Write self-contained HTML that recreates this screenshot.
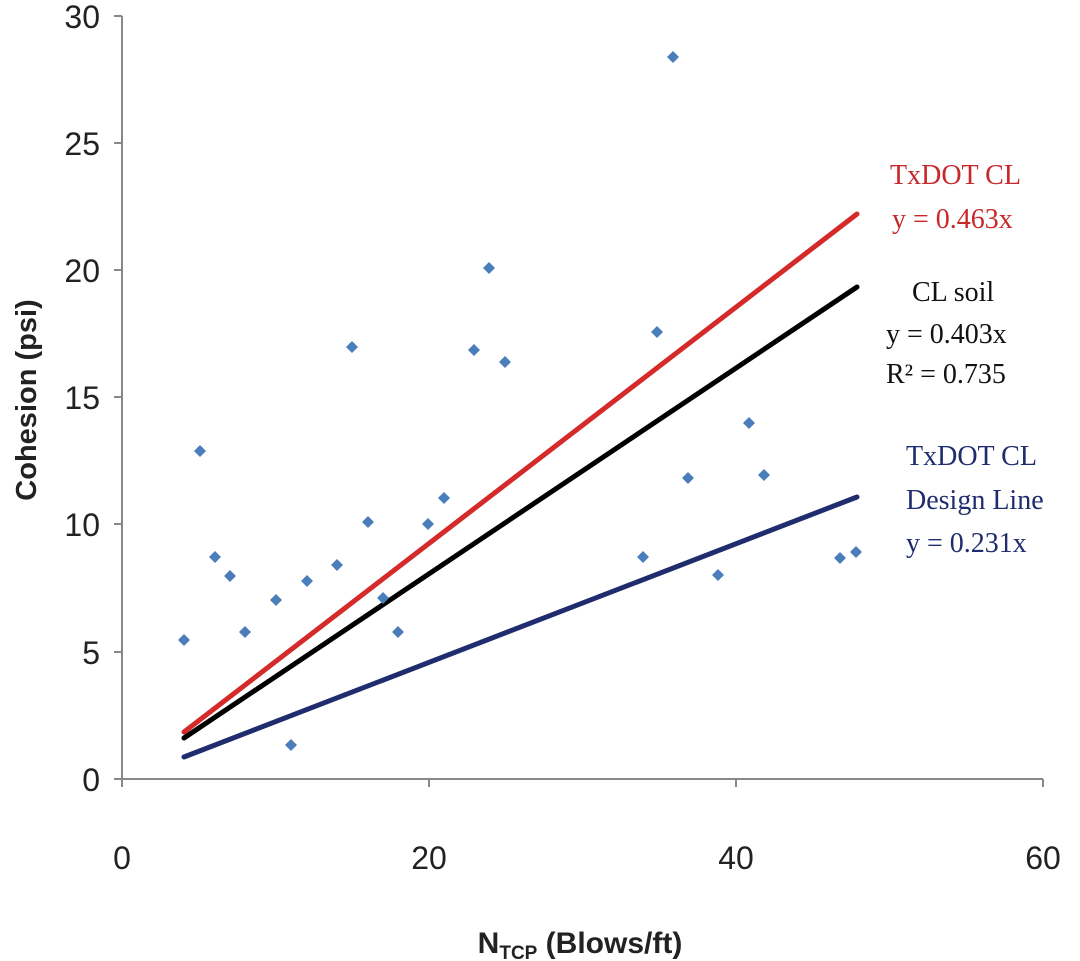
<!DOCTYPE html>
<html><head><meta charset="utf-8"><style>body{margin:0;background:#fff}svg{display:block}</style></head><body>
<svg width="1080" height="961" viewBox="0 0 1080 961" xmlns="http://www.w3.org/2000/svg">
<g stroke="#888" stroke-width="2" fill="none">
<line x1="122" y1="16" x2="122" y2="780"/>
<line x1="122" y1="779" x2="1043" y2="779"/>
<line x1="114" y1="16" x2="122" y2="16"/><line x1="114" y1="143" x2="122" y2="143"/><line x1="114" y1="270" x2="122" y2="270"/><line x1="114" y1="397" x2="122" y2="397"/><line x1="114" y1="524" x2="122" y2="524"/><line x1="114" y1="652" x2="122" y2="652"/><line x1="114" y1="779" x2="122" y2="779"/>
<line x1="122" y1="779" x2="122" y2="787"/><line x1="429" y1="779" x2="429" y2="787"/><line x1="736" y1="779" x2="736" y2="787"/><line x1="1043" y1="779" x2="1043" y2="787"/>
</g>
<g font-family="Liberation Sans, sans-serif" font-size="32" fill="#222" text-anchor="end">
<text x="100" y="28">30</text><text x="100" y="155">25</text><text x="100" y="282">20</text><text x="100" y="409">15</text><text x="100" y="536">10</text><text x="100" y="664">5</text><text x="100" y="791">0</text>
</g>
<g font-family="Liberation Sans, sans-serif" font-size="32" fill="#222" text-anchor="middle">
<text x="122" y="869">0</text><text x="429" y="869">20</text><text x="736" y="869">40</text><text x="1043" y="869">60</text>
</g>
<text transform="translate(36,400) rotate(-90)" text-anchor="middle" font-family="Liberation Sans, sans-serif" font-weight="bold" font-size="29" fill="#222">Cohesion (psi)</text>
<text x="580" y="953" text-anchor="middle" font-family="Liberation Sans, sans-serif" font-weight="bold" font-size="30" fill="#222">N<tspan font-size="19" dy="6">TCP</tspan><tspan dy="-6"> (Blows/ft)</tspan></text>
<g stroke-width="5" stroke-linecap="round">
<line x1="184" y1="732" x2="857" y2="214" stroke="#d42a2a"/>
<line x1="184" y1="738" x2="857" y2="287" stroke="#000"/>
<line x1="184" y1="757" x2="857" y2="497" stroke="#1f2d6e"/>
</g>
<g fill="#4a7ebb">
<path d="M184 634l6 6-6 6-6-6z"/><path d="M200 445l6 6-6 6-6-6z"/><path d="M215 551l6 6-6 6-6-6z"/><path d="M230 570l6 6-6 6-6-6z"/><path d="M245 626l6 6-6 6-6-6z"/><path d="M276 594l6 6-6 6-6-6z"/><path d="M291 739l6 6-6 6-6-6z"/><path d="M307 575l6 6-6 6-6-6z"/><path d="M337 559l6 6-6 6-6-6z"/><path d="M352 341l6 6-6 6-6-6z"/><path d="M368 516l6 6-6 6-6-6z"/><path d="M383 592l6 6-6 6-6-6z"/><path d="M398 626l6 6-6 6-6-6z"/><path d="M428 518l6 6-6 6-6-6z"/><path d="M444 492l6 6-6 6-6-6z"/><path d="M474 344l6 6-6 6-6-6z"/><path d="M489 262l6 6-6 6-6-6z"/><path d="M505 356l6 6-6 6-6-6z"/><path d="M643 551l6 6-6 6-6-6z"/><path d="M657 326l6 6-6 6-6-6z"/><path d="M673 51l6 6-6 6-6-6z"/><path d="M688 472l6 6-6 6-6-6z"/><path d="M718 569l6 6-6 6-6-6z"/><path d="M749 417l6 6-6 6-6-6z"/><path d="M764 469l6 6-6 6-6-6z"/><path d="M840 552l6 6-6 6-6-6z"/><path d="M856 546l6 6-6 6-6-6z"/>
</g>
<g font-family="Liberation Serif, serif" font-size="28">
<text x="890" y="184" fill="#c8282a">TxDOT CL</text>
<text x="892" y="228" fill="#c8282a">y = 0.463x</text>
<text x="912" y="301" fill="#111">CL soil</text>
<text x="886" y="343" fill="#111">y = 0.403x</text>
<text x="886" y="383" fill="#111">R² = 0.735</text>
<text x="906" y="465" fill="#1f2d6e">TxDOT CL</text>
<text x="906" y="509" fill="#1f2d6e">Design Line</text>
<text x="906" y="552" fill="#1f2d6e">y = 0.231x</text>
</g>
</svg>
</body></html>
